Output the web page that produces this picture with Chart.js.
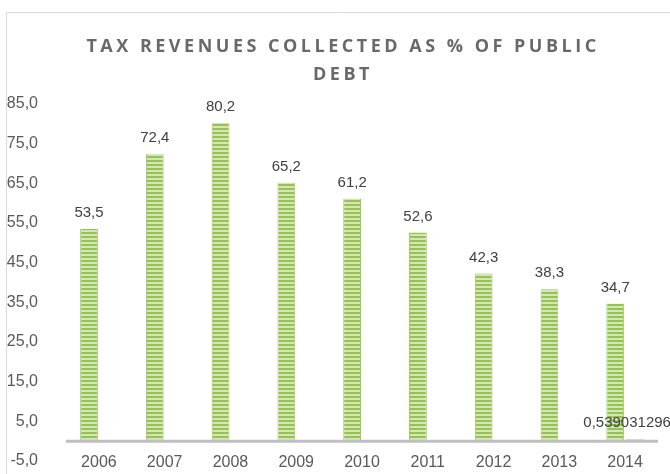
<!DOCTYPE html>
<html>
<head>
<meta charset="utf-8">
<script src="https://cdn.jsdelivr.net/npm/chart.js@4.4.1/dist/chart.umd.min.js"></script>
<style>
  html, body { margin: 0; padding: 0; background: #fff; overflow: hidden; }
  #wrap { width: 670px; height: 474px; }
</style>
</head>
<body>
<div id="wrap"><canvas id="myChart" width="670" height="474"></canvas></div>
<script>
var years = ['2006', '2007', '2008', '2009', '2010', '2011', '2012', '2013', '2014'];
var taxShare = [53.5, 72.4, 80.2, 65.2, 61.2, 52.6, 42.3, 38.3, 34.7];
var extraShare = [null, null, null, null, null, null, null, null, 0.539031296];
var titleLines = ['TAX REVENUES COLLECTED AS % OF PUBLIC', 'DEBT'];

// striped green fill for the bars
function stripes() {
  var c = document.createElement('canvas');
  c.width = 4; c.height = 4;
  var g = c.getContext('2d');
  g.fillStyle = '#d3e7b4';
  g.fillRect(0, 0, 4, 4);
  g.fillStyle = '#97c055';
  g.fillRect(0, 0, 4, 2);
  return g.createPattern(c, 'repeat');
}

function fmt(v, full) {
  if (full) return String(v).replace('.', ',');
  return v.toFixed(1).replace('.', ',');
}

// outer frame + spaced title
var framePlugin = {
  id: 'frame',
  beforeDraw: function (chart) {
    var ctx = chart.ctx;
    ctx.save();
    ctx.strokeStyle = '#d9d9d9';
    ctx.lineWidth = 1;
    ctx.beginPath();
    ctx.moveTo(6.5, 474);
    ctx.lineTo(6.5, 12.5);
    ctx.lineTo(670, 12.5);
    ctx.stroke();
    ctx.fillStyle = '#696969';
    ctx.font = 'bold 18px "Open Sans"';
    ctx.letterSpacing = '3.5px';
    ctx.textAlign = 'center';
    ctx.textBaseline = 'middle';
    ctx.fillText(titleLines[0], 343, 47);
    ctx.fillText(titleLines[1], 343, 75);
    ctx.restore();
  }
};

// horizontal axis line at zero, then value labels above each bar
// (the second series is labelled at the category centre)
var valuePlugin = {
  id: 'values',
  afterDatasetsDraw: function (chart) {
    var ctx = chart.ctx;
    var area = chart.chartArea;
    var y0 = chart.scales.y.getPixelForValue(0);
    ctx.save();
    ctx.strokeStyle = '#bfbfbf';
    ctx.lineWidth = 3;
    ctx.beginPath();
    ctx.moveTo(area.left, y0);
    ctx.lineTo(area.right, y0);
    ctx.stroke();

    ctx.fillStyle = '#404040';
    ctx.font = '15px "Liberation Sans"';
    ctx.textAlign = 'center';
    ctx.textBaseline = 'middle';
    chart.data.datasets.forEach(function (ds, i) {
      chart.getDatasetMeta(i).data.forEach(function (bar, j) {
        var v = ds.data[j];
        if (v === null) return;
        var x = i === 1 ? chart.scales.x.getPixelForValue(j) + 2 : bar.x;
        ctx.fillText(fmt(v, i === 1), x, bar.y - 16);
      });
    });
    ctx.restore();
  }
};

var pat = stripes();
new Chart(document.getElementById('myChart'), {
  type: 'bar',
  data: {
    labels: years,
    datasets: [{
      label: 'Tax revenues / public debt',
      data: taxShare,
      backgroundColor: pat,
      borderColor: '#a3c565',
      borderWidth: { left: 1, right: 1, top: 0, bottom: 0 },
      categoryPercentage: 0.6,
      barPercentage: 0.9
    }, {
      label: 'Series 2',
      data: extraShare,
      backgroundColor: pat,
      categoryPercentage: 0.6,
      barPercentage: 0.9
    }]
  },
  options: {
    responsive: false,
    animation: false,
    layout: { padding: { top: 104, right: 12, left: 0, bottom: 0 } },
    plugins: {
      legend: { display: false },
      tooltip: { enabled: false }
    },
    scales: {
      x: {
        grid: { display: false, drawTicks: false },
        border: { display: false },
        ticks: {
          color: '#595959',
          font: { family: 'Liberation Sans', size: 16 },
          mirror: true,
          padding: -11
        },
        afterFit: function (scale) { scale.height = 13; }
      },
      y: {
        min: -5,
        max: 85,
        border: { display: false },
        grid: { display: false },
        ticks: {
          stepSize: 10,
          color: '#595959',
          font: { family: 'Liberation Sans', size: 16 },
          padding: 20,
          callback: function (v) { return fmt(v); }
        },
        afterFit: function (scale) {
          scale.width = 66;
          scale.paddingTop = 0;
          scale.paddingBottom = 0;
        }
      }
    }
  },
  plugins: [framePlugin, valuePlugin]
});
</script>
</body>
</html>
